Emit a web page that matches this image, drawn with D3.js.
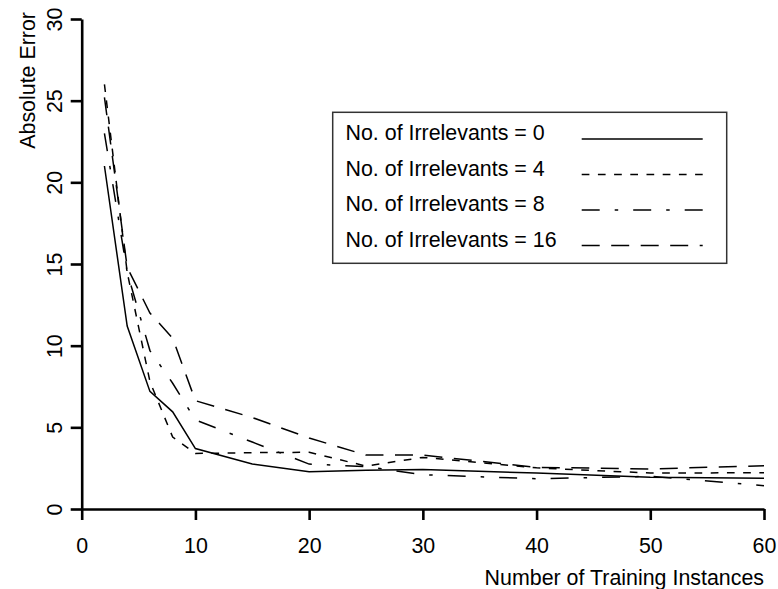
<!DOCTYPE html>
<html>
<head>
<meta charset="utf-8">
<script src="https://cdn.jsdelivr.net/npm/d3@7"></script>
<style>
  html, body { margin: 0; padding: 0; background: #fff; }
  svg { display: block; }
  text { font-family: "Liberation Sans", Arial, Helvetica, sans-serif; fill: #000; }
</style>
</head>
<body>
<svg id="chart" width="778" height="589"></svg>
<script>
// Training-set size on the x axis
const instances = [2, 4, 6, 8, 10, 15, 20, 25, 30, 40, 50, 60];

// Absolute error for each number of irrelevant attributes
const irrelevants0  = [21.0, 11.2, 7.2, 5.95, 3.7, 2.75, 2.28, 2.38, 2.42, 2.2, 1.95, 1.88];
const irrelevants4  = [26.0, 14.5, 7.8, 4.4, 3.4, 3.45, 3.47, 2.63, 3.16, 2.52, 2.2, 2.22];
const irrelevants8  = [23.0, 14.5, 9.7, 7.7, 5.45, 4.1, 2.75, 2.6, 2.1, 1.85, 2.0, 1.43];
const irrelevants16 = [25.2, 14.8, 12.0, 10.46, 6.63, 5.6, 4.35, 3.3, 3.3, 2.55, 2.45, 2.65];

const seriesLabels = [
  "No. of Irrelevants = 0",
  "No. of Irrelevants = 4",
  "No. of Irrelevants = 8",
  "No. of Irrelevants = 16"
];
const seriesValues = [irrelevants0, irrelevants4, irrelevants8, irrelevants16];
const seriesDashes = [null, "7.7,8.5", "18,15,3.5,15", "18,11.5"];

const xTicks = [0, 10, 20, 30, 40, 50, 60];
const yTicks = [0, 5, 10, 15, 20, 25, 30];
const xTitle = "Number of Training Instances";
const yTitle = "Absolute Error";

const svg = d3.select("#chart");
const FONT = 21.4;

const x = d3.scaleLinear().domain([0, 60]).range([81.7, 764]);
const y = d3.scaleLinear().domain([0, 30]).range([509, 19]);

// Axes
const xAxis = svg.append("g")
  .attr("transform", `translate(0,${y(0)})`)
  .call(d3.axisBottom(x).tickValues(xTicks).tickSize(11).tickSizeOuter(0));
const yAxis = svg.append("g")
  .attr("transform", `translate(${x(0)},0)`)
  .call(d3.axisLeft(y).tickValues(yTicks).tickSize(11).tickSizeOuter(0));

[xAxis, yAxis].forEach(g => {
  g.select(".domain").attr("stroke", "#000").attr("stroke-width", 2.6);
  g.selectAll(".tick line").attr("stroke", "#000").attr("stroke-width", 2.6);
  g.selectAll(".tick text")
    .attr("font-size", FONT)
    .attr("font-family", '"Liberation Sans", Arial, sans-serif')
    .attr("fill", "#000");
});

xAxis.selectAll(".tick text").attr("dy", null).attr("y", 44);

yAxis.selectAll(".tick text")
  .attr("transform", "rotate(-90)")
  .attr("text-anchor", "middle")
  .attr("x", 0)
  .attr("y", -20)
  .attr("dy", null);

// Axis titles
svg.append("text")
  .attr("x", 764)
  .attr("y", 585)
  .attr("text-anchor", "end")
  .attr("font-size", FONT)
  .text(xTitle);

svg.append("text")
  .attr("transform", "translate(35,12) rotate(-90)")
  .attr("text-anchor", "end")
  .attr("font-size", FONT)
  .text(yTitle);

// Error curves
const line = d3.line()
  .x((d, i) => x(instances[i]))
  .y(d => y(d));

seriesValues.forEach((vals, k) => {
  svg.append("path")
    .datum(vals)
    .attr("d", line)
    .attr("fill", "none")
    .attr("stroke", "#000")
    .attr("stroke-width", 1.5)
    .attr("stroke-dasharray", seriesDashes[k]);
});

// Legend
const legend = svg.append("g");
legend.append("rect")
  .attr("x", 332.7).attr("y", 112.3)
  .attr("width", 394).attr("height", 151)
  .attr("fill", "#fff")
  .attr("stroke", "#333")
  .attr("stroke-width", 1.5);

seriesLabels.forEach((label, k) => {
  const base = 140 + k * 35.5;
  legend.append("text")
    .attr("x", 345.5)
    .attr("y", base)
    .attr("font-size", FONT)
    .text(label);
  legend.append("line")
    .attr("x1", 581.7).attr("x2", 702.7)
    .attr("y1", base - 1).attr("y2", base - 1)
    .attr("stroke", "#000")
    .attr("stroke-width", 1.4)
    .attr("stroke-dasharray", seriesDashes[k]);
});
</script>
</body>
</html>
